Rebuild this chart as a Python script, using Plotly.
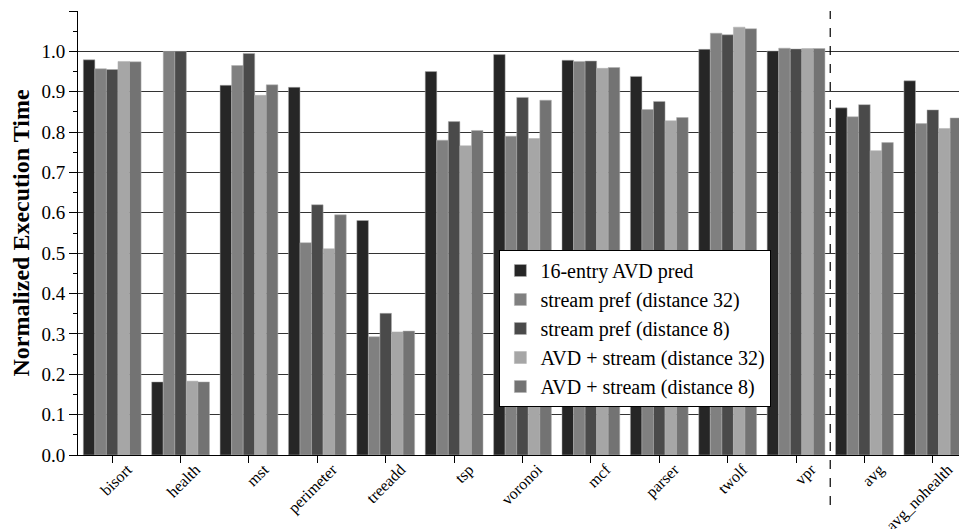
import plotly.graph_objects as go

categories = ["bisort", "health", "mst", "perimeter", "treeadd", "tsp", "voronoi",
              "mcf", "parser", "twolf", "vpr", "avg", "avg_nohealth"]

avd_pred      = [0.979, 0.181, 0.916, 0.911, 0.581, 0.950, 0.992, 0.978, 0.938, 1.005, 1.001, 0.860, 0.927]
stream_32     = [0.957, 1.000, 0.965, 0.526, 0.293, 0.780, 0.790, 0.975, 0.856, 1.045, 1.008, 0.838, 0.821]
stream_8      = [0.955, 1.000, 0.995, 0.620, 0.351, 0.826, 0.886, 0.976, 0.876, 1.041, 1.006, 0.868, 0.855]
avd_stream_32 = [0.975, 0.183, 0.891, 0.511, 0.305, 0.766, 0.784, 0.958, 0.828, 1.060, 1.007, 0.754, 0.809]
avd_stream_8  = [0.974, 0.181, 0.917, 0.595, 0.307, 0.804, 0.879, 0.960, 0.836, 1.056, 1.007, 0.774, 0.835]

series = [
    ("16-entry AVD pred", avd_pred, "#262626"),
    ("stream pref (distance 32)", stream_32, "#808080"),
    ("stream pref (distance 8)", stream_8, "#4a4a4a"),
    ("AVD + stream (distance 32)", avd_stream_32, "#a6a6a6"),
    ("AVD + stream (distance 8)", avd_stream_8, "#737373"),
]

y_ticks = [round(i * 0.1, 1) for i in range(12)]

fig = go.Figure()
for name, vals, color in series:
    fig.add_trace(go.Bar(
        name=name, x=categories, y=vals,
        marker=dict(color=color, line=dict(color="#b0b0b0", width=0.5)),
    ))

SERIF = "Liberation Serif, Times New Roman, serif"

# the page body adds an 8px offset, so the figure is 8px smaller than the window
fig.update_layout(
    width=959, height=521,
    margin=dict(l=70, r=0, t=3, b=74),
    barmode="group", bargap=0.155, bargroupgap=0,
    plot_bgcolor="white", paper_bgcolor="white",
    font=dict(family=SERIF, color="black", size=18),
    showlegend=True,
    legend=dict(
        x=0.474, y=0.4617, xanchor="left", yanchor="top",
        bgcolor="white", bordercolor="black", borderwidth=1,
        font=dict(family=SERIF, size=20, color="black"),
        itemwidth=30, tracegroupgap=0,
    ),
    xaxis=dict(
        tickangle=-45, showgrid=False, ticks="outside", ticklen=7, tickcolor="black",
        showline=True, linecolor="black", linewidth=1,
        tickfont=dict(family=SERIF, size=16, color="black"), automargin=False,
        ticklabelshift=15, ticklabelstandoff=-9,
    ),
    yaxis=dict(
        range=[0, 1.1], tickvals=y_ticks, ticktext=[f"{v:.1f}" for v in y_ticks],
        showgrid=True, gridcolor="#333333", gridwidth=1,
        ticks="outside", ticklen=8, tickcolor="black",
        minor=dict(dtick=0.05, ticks="outside", ticklen=4, tickcolor="black", showgrid=False),
        showline=True, linecolor="black", linewidth=1, zeroline=False,
        tickfont=dict(family=SERIF, size=19, color="black"),
        title=dict(text="<b>Normalized Execution Time</b>",
                   font=dict(family=SERIF, size=24, color="black"), standoff=6),
        automargin=False,
    ),
)

fig.add_shape(type="line", xref="x", yref="paper", x0=10.5, x1=10.5, y0=-0.1126, y1=1.0,
              line=dict(color="black", width=1.2, dash="dash"))

fig.write_html("out.html")
